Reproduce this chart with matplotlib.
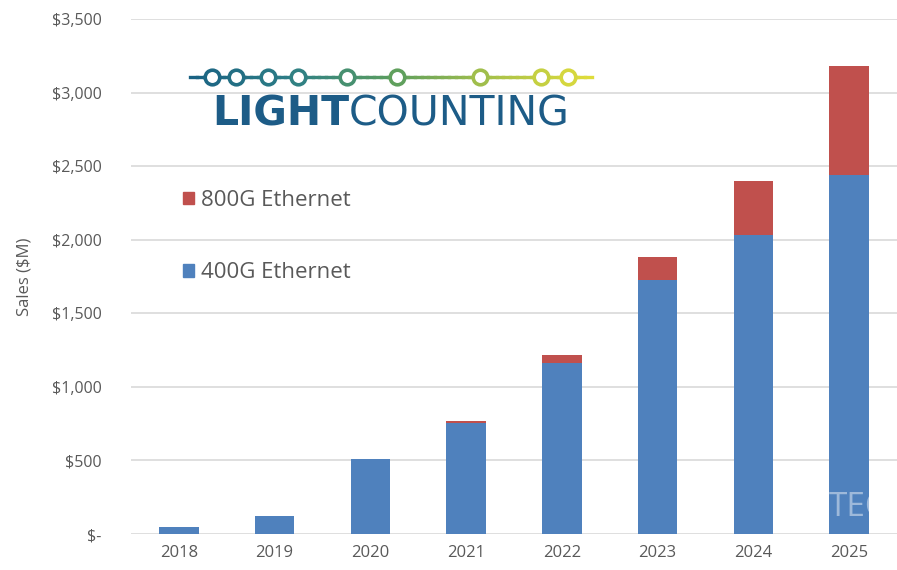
import numpy as np
import matplotlib.pyplot as plt
from matplotlib.patches import Patch
from matplotlib.collections import LineCollection
from matplotlib.colors import LinearSegmentedColormap

# Data (sales, $M)
years = ['2018', '2019', '2020', '2021', '2022', '2023', '2024', '2025']
sales_400g = [45, 125, 510, 755, 1165, 1723, 2030, 2440]
sales_800g = [0, 0, 0, 12, 50, 158, 370, 740]

y_ticks = [0, 500, 1000, 1500, 2000, 2500, 3000, 3500]
y_ticklabels = ['$-', '$500', '$1,000', '$1,500', '$2,000', '$2,500', '$3,000', '$3,500']

blue = '#4F81BD'
red = '#C0504D'
grey_text = '#595959'

W, H = 897, 570
fig = plt.figure(figsize=(W / 100, H / 100), dpi=100)
plt.rcParams['font.family'] = ['Open Sans', 'DejaVu Sans']

# axes placed in pixel terms
left, right, top, bottom = 131, 897, 19, 534
ax = fig.add_axes([left / W, (H - bottom) / H, (right - left) / W, (bottom - top) / H])

x = np.arange(len(years))
ax.bar(x, sales_400g, width=0.41, color=blue, zorder=2)
ax.bar(x, sales_800g, width=0.41, bottom=sales_400g, color=red, zorder=2)

ax.set_xlim(-0.5, len(years) - 0.5)
ax.set_ylim(0, 3500)
ax.set_yticks(y_ticks)
ax.set_yticklabels(y_ticklabels, fontsize=11.5, color=grey_text)
ax.set_xticks(x)
ax.set_xticklabels(years, fontsize=12, color=grey_text)
ax.tick_params(axis='x', length=0, pad=8)
ax.tick_params(axis='y', length=0, pad=21)
ax.yaxis.grid(True, color='#D9D9D9', linewidth=1.2, zorder=0)
ax.set_axisbelow(True)
for s in ax.spines.values():
    s.set_visible(False)
ax.set_ylabel('Sales ($M)', fontsize=12, color=grey_text, labelpad=14)

# legend, 800G above 400G
handles = [Patch(color=red, label='800G Ethernet'),
           Patch(color=blue, label='400G Ethernet')]
leg = fig.legend(handles=handles, loc='upper left',
                 bbox_to_anchor=(163 / W, 1 - 170 / H), frameon=False,
                 fontsize=16, labelspacing=2.3, handlelength=0.5,
                 handleheight=0.5, handletextpad=0.3)
for t in leg.get_texts():
    t.set_color(grey_text)

# LightCounting logo
logo_dots = [212, 236, 268, 298, 347, 397, 480, 541, 568]
cmap = LinearSegmentedColormap.from_list('lc', ['#1A6283', '#2E7F86', '#5C9E5E', '#A9C24A', '#E2DE3A'])
ly = 1 - 77 / H
xs = np.linspace(190, 592, 60)
segs = [[(xs[i] / W, ly), (xs[i + 1] / W, ly)] for i in range(len(xs) - 1)]
lc = LineCollection(segs, colors=cmap((xs[:-1] - 190) / 402), linewidths=2.4,
                    capstyle='projecting', transform=fig.transFigure)
fig.add_artist(lc)
for d in logo_dots:
    c = cmap((d - 190) / 402)
    fig.add_artist(plt.Line2D([d / W], [ly], marker='o', markersize=10.5,
                              markerfacecolor='white', markeredgecolor=c,
                              markeredgewidth=2.6, linestyle='none'))

t1 = fig.text(212 / W, 1 - 126 / H, 'LIGHT', fontsize=29.5, fontweight='bold',
              color='#1D5C87', family='DejaVu Sans', va='baseline', ha='left')
fig.canvas.draw()
bb = t1.get_window_extent()
fig.text(bb.x1 / W, 1 - 126 / H, 'COUNTING', fontsize=29.5, color='#1D5C87',
         family='DejaVu Sans', va='baseline', ha='left')

# faint watermark
fig.text(829 / W, 1 - 516 / H, 'TEC', fontsize=24, color='white', alpha=0.45,
         va='baseline', ha='left')

fig.savefig('out.png', dpi=100)
